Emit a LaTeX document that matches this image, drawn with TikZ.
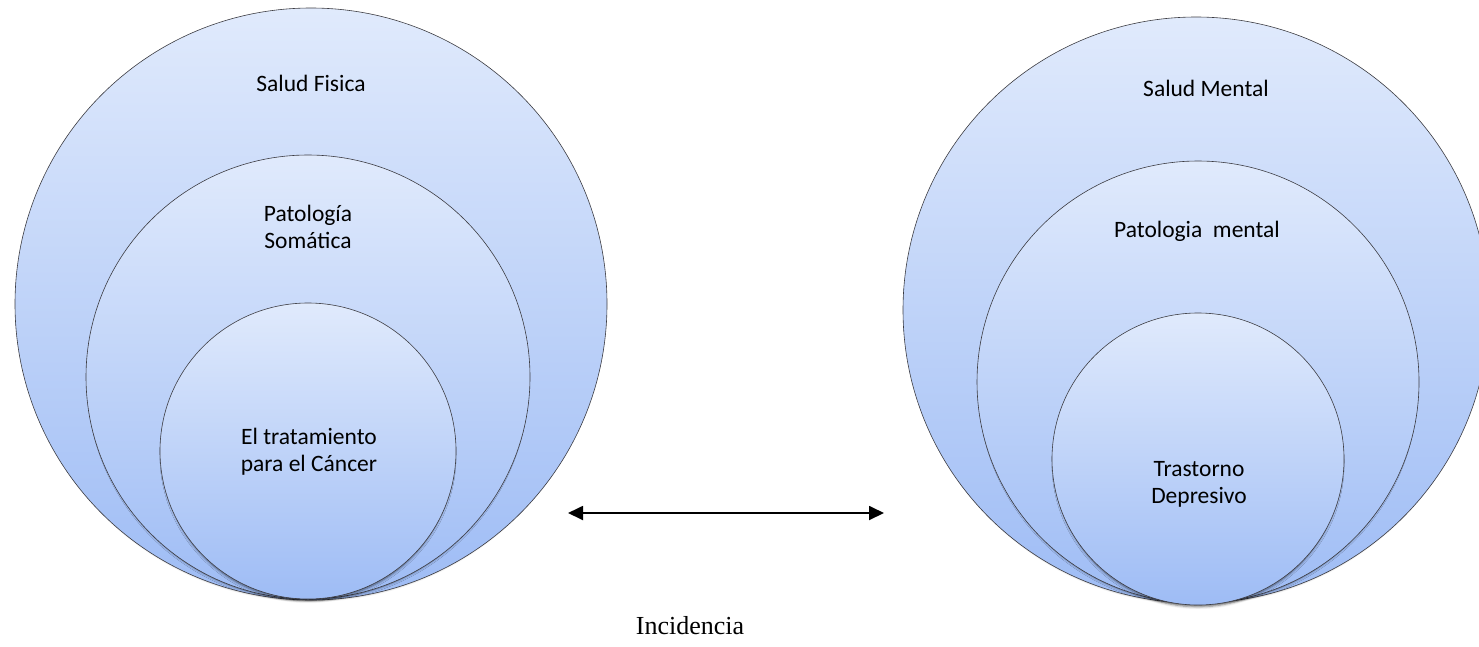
\documentclass[tikz,border=0pt]{standalone}
\usepackage{fontspec}
\setmainfont{Carlito}
\newfontfamily\serifface{Liberation Serif}
\usetikzlibrary{arrows.meta,shadows.blur}
\definecolor{ringtop}{RGB}{224,234,252}
\definecolor{ringbottom}{RGB}{158,188,245}
\definecolor{ringedge}{RGB}{60,60,66}
\tikzset{
  ring/.style={circle, draw=ringedge, line width=0.6pt, inner sep=0pt,
    minimum size=#1, top color=ringtop, bottom color=ringbottom,
    blur shadow={shadow xshift=0pt, shadow yshift=-4pt, shadow scale=0.985,
      shadow blur radius=2.5pt, shadow opacity=55}},
  caption/.style={font=\fontsize{23.5}{27}\selectfont, align=center, inner sep=0pt, text=black},
  linkarrow/.style={line width=1.8pt, {Triangle[length=15pt,width=14pt]}-{Triangle[length=15pt,width=14pt]}}
}
\begin{document}
\begin{tikzpicture}[x=1pt,y=-1pt]
  \useasboundingbox (0,0) rectangle (1479,646);

  % physical health: nested rings
  \node[ring=592pt] (fisica) at (311,304) {};
  \node[ring=444pt] (somatica) at (308,377) {};
  \node[ring=296pt] (cancer) at (308,451) {};
  \node[caption] (tfisica) at (311,83) {Salud Fisica};
  \node[caption] (tsomatica) at (308,227) {Patología\\Somática};
  \node[caption] (tcancer) at (309,452) {El tratamiento\\para el Cáncer};

  % mental health: nested rings
  \node[ring=586pt] (mental) at (1196,310) {};
  \node[ring=442pt] (patmental) at (1198,382) {};
  \node[ring=292pt] (depresivo) at (1198,459) {};
  \node[caption] (tmental) at (1206,88) {Salud Mental};
  \node[caption] (tpatmental) at (1197,231) {Patologia\ \ mental};
  \node[caption] (tdepresivo) at (1199,484) {Trastorno\\Depresivo};

  % two-way link between both groups
  \coordinate (izq) at (568,513);
  \coordinate (der) at (884,513);
  \draw[linkarrow] (izq) -- (der);
  \node[font=\serifface\fontsize{26}{30}\selectfont, inner sep=0pt] (incidencia) at (690,626) {Incidencia};
\end{tikzpicture}
\end{document}
